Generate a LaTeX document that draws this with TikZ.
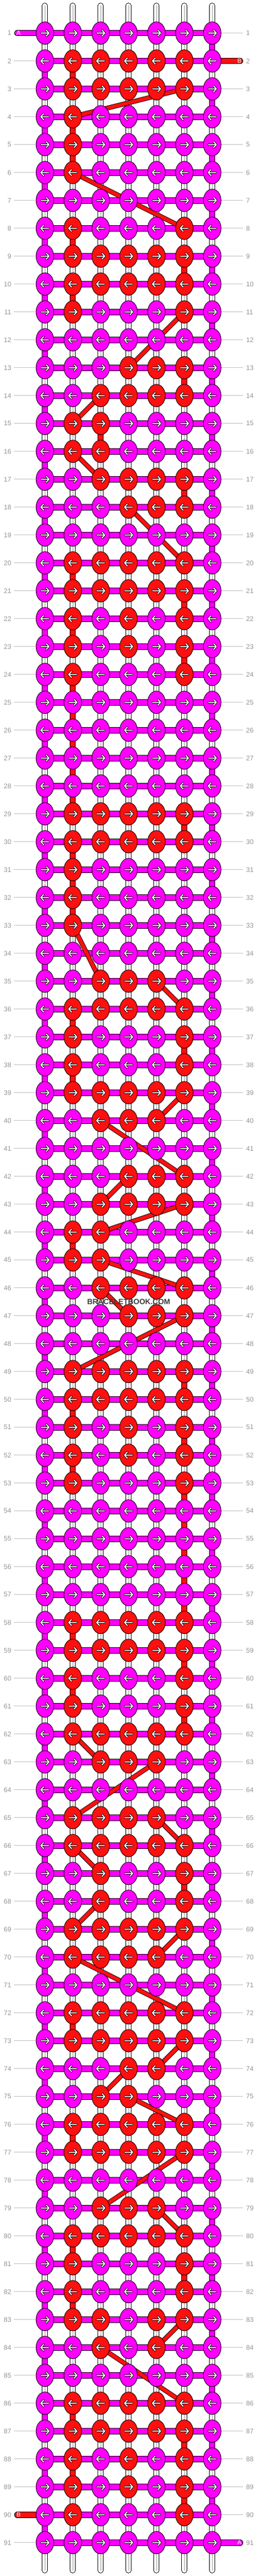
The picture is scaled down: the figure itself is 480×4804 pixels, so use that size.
\documentclass[tikz,border=0pt]{standalone}
\usepackage{fontspec}
\setmainfont{Liberation Sans}
\usetikzlibrary{shapes.geometric}
\definecolor{mag}{HTML}{FF00FF}
\definecolor{rd}{HTML}{FF1010}
\definecolor{labgray}{HTML}{969696}
\definecolor{linegray}{HTML}{BEBEBE}
\definecolor{tubegray}{HTML}{C4C4C4}
\definecolor{wmark}{HTML}{3A3A3A}
\tikzset{
  knot/.style={ellipse,draw=black,line width=0.9pt,minimum width=33pt,minimum height=42pt,inner sep=0pt},
  tube/.style={draw=black,double=white,line width=1pt,double distance=8.6pt,line cap=round},
  tubecore/.style={draw=tubegray,line width=2pt},
  hbar/.style={draw=black,double=#1,line width=1pt,double distance=9.6pt,line cap=round},
  vbar/.style={draw=black,double=#1,line width=1pt,double distance=8.6pt},
  diag/.style={draw=black,double=rd,line width=0.9pt,double distance=7pt},
  arrout/.style={draw=black,line width=3.8pt,line cap=round,line join=round},
  arrin/.style={draw=white,line width=1.9pt,line cap=round,line join=round},
  rowlab/.style={text=labgray,font=\fontsize{12.5}{12.5}\selectfont,inner sep=0pt},
  rowline/.style={draw=linegray,line width=1pt},
  stublab/.style={text=white,font=\fontsize{11.5}{11.5}\selectfont,inner sep=0pt},
  rarr/.pic={\draw[arrout] (-7,0)--(7.5,0) (2.5,-5.5)--(7.5,0)--(2.5,5.5);
             \draw[arrin] (-7,0)--(7.5,0) (2.5,-5.5)--(7.5,0)--(2.5,5.5);},
  larr/.pic={\draw[arrout] (7,0)--(-7.5,0) (-2.5,-5.5)--(-7.5,0)--(-2.5,5.5);
             \draw[arrin] (7,0)--(-7.5,0) (-2.5,-5.5)--(-7.5,0)--(-2.5,5.5);}
}
\begin{document}
\begin{tikzpicture}[x=1pt,y=-1pt]
\useasboundingbox (0,0) rectangle (480,4804);
\fill[white] (0,0) rectangle (480,4804);
% knot positions
\foreach \ri in {1,...,91}{
  \foreach \ci in {1,...,7}{
    \coordinate (k\ri-\ci) at ({83.7+52*(\ci-1)},{61.7+52*(\ri-1)});
  }
}
\foreach \ci in {1,...,7}{
  \coordinate (top\ci) at ({83.7+52*(\ci-1)},10.5);
  \coordinate (bot\ci) at ({83.7+52*(\ci-1)},4793.5);
}
% red knots
\foreach \ri/\cl in {2/{2,3,4,5,6},3/{2,3,4,5,6},4/{2},5/{2},6/{2},8/{2,6},9/{2,3,4,5,6},10/{2,3,4,5,6},11/{2,6},
  13/{4,5,6},14/{3,4,5,6},15/{2,3},16/{2,3},17/{3,4,5,6},18/{4,5,6},20/{2,3,4,5,6},21/{2,3,4,5,6},22/{2,4,6},
  23/{2,4,6},24/{2,6},29/{2,3,4,5,6},30/{2,3,4,5,6},31/{2},32/{2},33/{2},35/{3,4,5},36/{2,3,4,5,6},37/{2,6},
  38/{2,6},39/{2,3,4,5,6},40/{3,4,5},42/{4,5,6},43/{3,4,5,6},44/{2,3},45/{2,3},46/{3,4,5,6},47/{4,5,6},
  49/{2,3,4,5,6},50/{2,3,4,5,6},51/{2,4,6},52/{2,4,6},53/{2,6},58/{2,3,4,5,6},59/{2,3,4,5,6},60/{2,6},61/{2,6},
  62/{2,3,4,5,6},63/{3,4,5},65/{2,3,4,5},66/{2,3,4,5,6},67/{3,6},68/{3,6},69/{2,3,4,5,6},70/{2,3,4,5},
  72/{2,3,4,5,6},73/{2,3,4,5,6},74/{4,5},75/{3,4},76/{2,3,4,5,6},77/{2,3,4,5,6},79/{3,4,5},80/{2,3,4,5,6},
  81/{2,6},82/{2,6},83/{2,3,5,6},84/{3,5},86/{2,3,4,5,6},87/{2,3,4,5,6},88/{2,4,6},89/{2,4,6},90/{2,6}}{
  \foreach \ci in \cl {\expandafter\gdef\csname rk-\ri-\ci\endcsname{}}
}
% row labels and guide lines
\foreach \ri in {1,...,91}{
  \coordinate (gl\ri) at (26,{61.7+52*(\ri-1)});
  \coordinate (gr\ri) at (453,{61.7+52*(\ri-1)});
  \draw[rowline] (gl\ri) -- ([xshift=-17pt]k\ri-1);
  \draw[rowline] ([xshift=17pt]k\ri-7) -- (gr\ri);
  \node[rowlab,anchor=east] (ll\ri) at (21.3,{61.7+52*(\ri-1)}) {\ri};
  \node[rowlab,anchor=west] (rl\ri) at (458.6,{61.7+52*(\ri-1)}) {\ri};
}
% vertical base strands
\foreach \ci in {1,...,7}{
  \draw[tube] (top\ci) -- (bot\ci);
  \draw[tubecore] (top\ci) -- (bot\ci);
}
% strand A at the edges
\foreach \ri in {1,...,90}{
  \pgfmathtruncatemacro\nx{\ri+1}
  \ifodd\ri\relax\def\ec{7}\else\def\ec{1}\fi
  \draw[vbar=mag] (k\ri-\ec) -- (k\nx-\ec);
}
% strand B vertical runs
\foreach \ci/\ra/\rb in {2/2/3,2/4/6,2/8/9,6/9/10,2/10/11,6/13/14,3/15/16,6/17/18,2/20/21,6/21/22,2/22/23,
  6/23/24,2/24/29,6/29/30,2/30/33,2/36/37,6/37/38,2/38/39,2/44/45,6/49/50,2/50/51,6/51/52,2/52/53,6/53/58,
  2/58/59,6/59/60,2/60/61,6/61/62,6/67/68,2/72/73,2/76/77,2/80/81,6/81/82,2/82/83,2/86/87,6/87/88,2/88/89,6/89/90}{
  \draw[vbar=rd] (k\ra-\ci) -- (k\rb-\ci);
}
% horizontal bars
\foreach \ri in {1,...,91}{
  \draw[hbar=mag] (k\ri-1) -- (k\ri-7);
}
% strand ends
\coordinate (sA1) at (32.3,61.7);
\coordinate (sB1) at (447.6,113.7);
\coordinate (sB2) at (32.3,4689.7);
\coordinate (sA2) at (447.6,4741.7);
\draw[hbar=mag] (sA1) -- (k1-1);
\draw[hbar=rd] (k2-7) -- (sB1);
\draw[hbar=rd] (sB2) -- (k90-1);
\draw[hbar=mag] (k91-7) -- (sA2);
\node[stublab] (tA1) at (34.6,61.7) {A};
\node[stublab] (tB1) at (446.5,113.7) {B};
\node[stublab] (tB2) at (34.6,4689.7) {B};
\node[stublab] (tA2) at (446.5,4741.7) {A};
% strand B carried diagonally
\foreach \ra/\ca/\rb/\cb in {3/6/4/2,6/2/8/6,11/6/13/4,14/3/15/2,16/2/17/3,18/4/20/6,33/2/35/3,35/5/36/6,
  39/6/40/5,40/3/42/6,42/4/43/3,43/6/44/3,45/3/46/6,46/3/47/4,47/6/49/2,62/2/63/3,63/5/65/2,65/5/66/6,
  66/2/67/3,68/3/69/2,69/6/70/5,70/2/72/6,73/6/74/5,74/4/75/3,75/4/76/6,77/6/79/3,79/5/80/6,83/6/84/5,84/3/86/6}{
  \draw[diag] (k\ra-\ca) -- (k\rb-\cb);
}
% knots
\foreach \ri in {1,...,91}{
  \foreach \ci in {1,...,7}{
    \ifcsname rk-\ri-\ci\endcsname\def\kc{rd}\else\def\kc{mag}\fi
    \node[knot,fill=\kc] (n\ri-\ci) at (k\ri-\ci) {};
    \ifodd\ri\relax
      \pic at (k\ri-\ci) {rarr};
    \else
      \pic at (k\ri-\ci) {larr};
    \fi
  }
}
\node[text=wmark,font=\bfseries\fontsize{14}{14}\selectfont,inner sep=0pt] (wm) at (240,2427.5) {BRACELETBOOK.COM};
\end{tikzpicture}
\end{document}
